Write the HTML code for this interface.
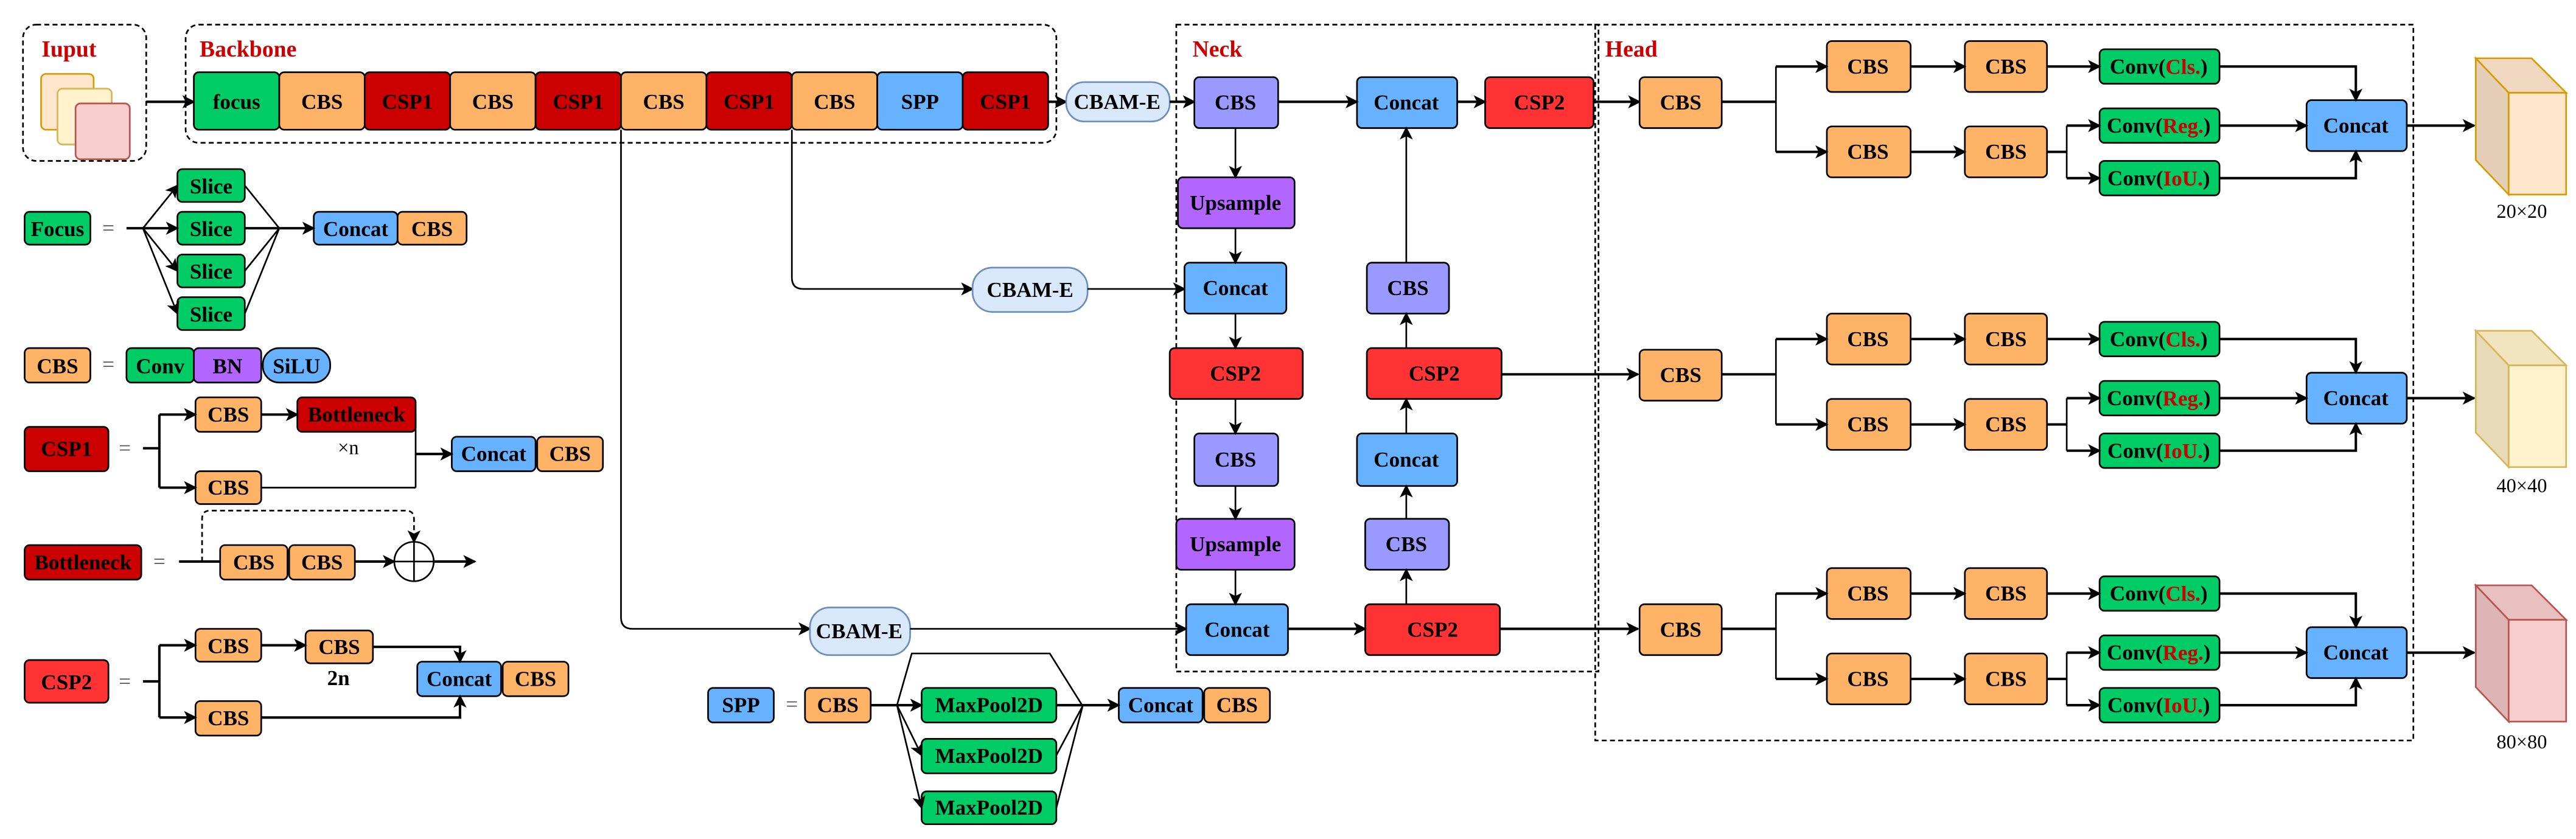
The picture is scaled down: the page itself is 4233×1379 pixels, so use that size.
<!DOCTYPE html>
<html><head><meta charset="utf-8"><style>
html,body{margin:0;padding:0;background:#fff}
svg{display:block}
text{font-family:"Liberation Serif",serif;font-weight:bold;font-size:13px;text-anchor:middle;dominant-baseline:central;fill:#000}
.r{fill:#cc0000}
.b{stroke:#000;stroke-width:1}
.l{stroke:#000;stroke-width:1;fill:none}
.t{stroke:#000;stroke-width:1.5;fill:none}
.d{stroke:#000;stroke-width:1;fill:none;stroke-dasharray:3,2}
</style></head><body>
<svg width="4233" height="1379" viewBox="0 0 1568 511" preserveAspectRatio="none" xmlns="http://www.w3.org/2000/svg">
<defs><marker id="a" markerUnits="userSpaceOnUse" markerWidth="8" markerHeight="8" refX="7" refY="4" orient="auto"><path d="M0,0 L8,4 L0,8 L2,4 Z" fill="#000"/></marker></defs>

<!-- group boxes -->
<rect x="14" y="15" width="75" height="83" rx="8" class="d"/>
<text x="42" y="30" class="r" style="font-size:14px">Iuput</text>
<rect x="25" y="45" width="32" height="34" rx="3" fill="#ffe6cc" stroke="#d79b00"/>
<rect x="35" y="54" width="33" height="34" rx="3" fill="#fff2cc" stroke="#d6b656"/>
<rect x="46" y="63" width="33" height="34" rx="3" fill="#f8cecc" stroke="#b85450"/>

<rect x="113" y="15" width="530" height="72" rx="8" class="d"/>
<text x="151" y="30" class="r" style="font-size:14px">Backbone</text>
<rect x="716" y="15" width="257" height="394" class="d"/>
<text x="741" y="30" class="r" style="font-size:14px">Neck</text>
<rect x="971" y="15" width="498" height="436" class="d"/>
<text x="993" y="30" class="r" style="font-size:14px">Head</text>

<!-- backbone -->
<line x1="89" y1="62" x2="118" y2="62" class="t" marker-end="url(#a)"/>
<g class="b">
<rect x="118" y="44" width="52" height="35" rx="3" fill="#00cc66"/>
<rect x="170" y="44" width="52" height="35" rx="3" fill="#ffb366"/>
<rect x="222" y="44" width="52" height="35" rx="3" fill="#cc0000"/>
<rect x="274" y="44" width="52" height="35" rx="3" fill="#ffb366"/>
<rect x="326" y="44" width="52" height="35" rx="3" fill="#cc0000"/>
<rect x="378" y="44" width="52" height="35" rx="3" fill="#ffb366"/>
<rect x="430" y="44" width="52" height="35" rx="3" fill="#cc0000"/>
<rect x="482" y="44" width="52" height="35" rx="3" fill="#ffb366"/>
<rect x="534" y="44" width="52" height="35" rx="3" fill="#66b2ff"/>
<rect x="586" y="44" width="52" height="35" rx="3" fill="#cc0000"/>
</g>
<text x="144" y="62">focus</text><text x="196" y="62">CBS</text><text x="248" y="62">CSP1</text><text x="300" y="62">CBS</text><text x="352" y="62">CSP1</text><text x="404" y="62">CBS</text><text x="456" y="62">CSP1</text><text x="508" y="62">CBS</text><text x="560" y="62">SPP</text><text x="612" y="62">CSP1</text>

<line x1="638" y1="62" x2="649" y2="62" class="t" marker-end="url(#a)"/>
<rect x="649" y="50" width="63" height="24" rx="11" fill="#dae8fc" stroke="#6c8ebf"/>
<text x="680" y="62">CBAM-E</text>
<line x1="712" y1="62" x2="727" y2="62" class="t" marker-end="url(#a)"/>

<!-- branch lines from backbone -->
<path d="M482,79 V169 Q482,176 489,176 H592" class="l" marker-end="url(#a)"/>
<rect x="592" y="163" width="70" height="27" rx="12" fill="#dae8fc" stroke="#6c8ebf"/>
<text x="627" y="176.5">CBAM-E</text>
<line x1="662" y1="176" x2="721" y2="176" class="l" marker-end="url(#a)"/>
<path d="M378,79 V376 Q378,383 385,383 H493" class="l" marker-end="url(#a)"/>
<rect x="493" y="370" width="61" height="29" rx="12" fill="#dae8fc" stroke="#6c8ebf"/>
<text x="523" y="384.5">CBAM-E</text>
<line x1="554" y1="383" x2="722" y2="383" class="l" marker-end="url(#a)"/>

<!-- neck -->
<g class="b">
<rect x="727" y="47" width="51" height="31" rx="3" fill="#9999ff"/>
<rect x="826" y="47" width="61" height="31" rx="3" fill="#66b2ff"/>
<rect x="904" y="47" width="66" height="31" rx="3" fill="#ff3333"/>
<rect x="717" y="108" width="71" height="31" rx="3" fill="#b266ff"/>
<rect x="721" y="160" width="62" height="31" rx="3" fill="#66b2ff"/>
<rect x="832" y="160" width="50" height="31" rx="3" fill="#9999ff"/>
<rect x="712" y="212" width="81" height="31" rx="3" fill="#ff3333"/>
<rect x="832" y="212" width="82" height="31" rx="3" fill="#ff3333"/>
<rect x="727" y="264" width="51" height="32" rx="3" fill="#9999ff"/>
<rect x="826" y="264" width="61" height="32" rx="3" fill="#66b2ff"/>
<rect x="716" y="316" width="72" height="31" rx="3" fill="#b266ff"/>
<rect x="831" y="316" width="51" height="31" rx="3" fill="#9999ff"/>
<rect x="722" y="368" width="62" height="31" rx="3" fill="#66b2ff"/>
<rect x="831" y="368" width="82" height="31" rx="3" fill="#ff3333"/>
</g>
<text x="752" y="62.5">CBS</text><text x="856" y="62.5">Concat</text><text x="937" y="62.5">CSP2</text>
<text x="752" y="123.5">Upsample</text><text x="752" y="175.5">Concat</text><text x="857" y="175.5">CBS</text>
<text x="752" y="227.5">CSP2</text><text x="873" y="227.5">CSP2</text>
<text x="752" y="280">CBS</text><text x="856" y="280">Concat</text>
<text x="752" y="331.5">Upsample</text><text x="856" y="331.5">CBS</text>
<text x="753" y="383.5">Concat</text><text x="872" y="383.5">CSP2</text>
<line x1="778" y1="62" x2="826" y2="62" class="t" marker-end="url(#a)"/>
<line x1="887" y1="62" x2="904" y2="62" class="t" marker-end="url(#a)"/>
<line x1="970" y1="62" x2="998" y2="62" class="t" marker-end="url(#a)"/>
<line x1="752" y1="78" x2="752" y2="108" class="l" marker-end="url(#a)"/>
<line x1="752" y1="139" x2="752" y2="160" class="l" marker-end="url(#a)"/>
<line x1="752" y1="191" x2="752" y2="212" class="l" marker-end="url(#a)"/>
<line x1="752" y1="243" x2="752" y2="264" class="l" marker-end="url(#a)"/>
<line x1="752" y1="296" x2="752" y2="316" class="l" marker-end="url(#a)"/>
<line x1="752" y1="347" x2="752" y2="368" class="l" marker-end="url(#a)"/>
<line x1="784" y1="383" x2="831" y2="383" class="t" marker-end="url(#a)"/>
<line x1="856" y1="368" x2="856" y2="347" class="l" marker-end="url(#a)"/>
<line x1="856" y1="316" x2="856" y2="296" class="l" marker-end="url(#a)"/>
<line x1="856" y1="264" x2="856" y2="243" class="l" marker-end="url(#a)"/>
<line x1="856" y1="212" x2="856" y2="191" class="l" marker-end="url(#a)"/>
<line x1="856" y1="160" x2="856" y2="78" class="l" marker-end="url(#a)"/>
<line x1="914" y1="228" x2="997" y2="228" class="t" marker-end="url(#a)"/>
<line x1="913" y1="383" x2="997" y2="383" class="t" marker-end="url(#a)"/>

<!-- head rows -->
<g id="row1">
<g class="b">
<rect x="998" y="47" width="50" height="31" rx="3" fill="#ffb366"/>
<rect x="1112" y="25" width="51" height="31" rx="3" fill="#ffb366"/>
<rect x="1196" y="25" width="50" height="31" rx="3" fill="#ffb366"/>
<rect x="1112" y="77" width="51" height="31" rx="3" fill="#ffb366"/>
<rect x="1196" y="77" width="50" height="31" rx="3" fill="#ffb366"/>
<rect x="1278" y="30" width="73" height="21" rx="3" fill="#00cc66"/>
<rect x="1278" y="66" width="73" height="21" rx="3" fill="#00cc66"/>
<rect x="1278" y="98" width="73" height="21" rx="3" fill="#00cc66"/>
<rect x="1404" y="61" width="61" height="31" rx="3" fill="#66b2ff"/>
</g>
<text x="1023" y="62.5">CBS</text><text x="1137" y="40.5">CBS</text><text x="1221" y="40.5">CBS</text><text x="1137" y="92.5">CBS</text><text x="1221" y="92.5">CBS</text>
<text x="1314" y="40.5">Conv(<tspan class="r">Cls.</tspan>)</text>
<text x="1314" y="76.5">Conv(<tspan class="r">Reg.</tspan>)</text>
<text x="1314" y="108.5">Conv(<tspan class="r">IoU.</tspan>)</text>
<text x="1434" y="76.5">Concat</text>
<path d="M1048,62 H1081" class="t"/>
<path d="M1081,40.5 V92.5" class="l"/>
<line x1="1081" y1="40.5" x2="1112" y2="40.5" class="t" marker-end="url(#a)"/>
<line x1="1081" y1="92.5" x2="1112" y2="92.5" class="t" marker-end="url(#a)"/>
<line x1="1163" y1="40.5" x2="1196" y2="40.5" class="t" marker-end="url(#a)"/>
<line x1="1246" y1="40.5" x2="1278" y2="40.5" class="t" marker-end="url(#a)"/>
<line x1="1163" y1="92.5" x2="1196" y2="92.5" class="t" marker-end="url(#a)"/>
<path d="M1246,92.5 H1258" class="t"/>
<path d="M1258,76.5 V108.5" class="l"/>
<line x1="1258" y1="76.5" x2="1278" y2="76.5" class="t" marker-end="url(#a)"/>
<line x1="1258" y1="108.5" x2="1278" y2="108.5" class="t" marker-end="url(#a)"/>
<path d="M1351,40.5 H1434 V61" class="t" marker-end="url(#a)"/>
<line x1="1351" y1="76.5" x2="1404" y2="76.5" class="t" marker-end="url(#a)"/>
<path d="M1351,108.5 H1434 V92" class="t" marker-end="url(#a)"/>
<line x1="1465" y1="76.5" x2="1506" y2="76.5" class="t" marker-end="url(#a)"/>
</g>
<use href="#row1" y="166"/>
<use href="#row1" y="321"/>

<!-- cubes -->
<g stroke="#d79b00" stroke-width="1">
<polygon points="1507,35.5 1541,35.5 1562,56.5 1527,56.5" fill="#f0d8c0"/>
<polygon points="1507,35.5 1527,56.5 1527,118.5 1507,97.5" fill="#e6cfb8"/>
<rect x="1527" y="56.5" width="35" height="62" fill="#ffe6cc"/>
</g>
<g stroke="#d6b656" stroke-width="1">
<polygon points="1507,201.5 1541,201.5 1562,222.5 1527,222.5" fill="#f3e4c0"/>
<polygon points="1507,201.5 1527,222.5 1527,284.5 1507,263.5" fill="#e8dab8"/>
<rect x="1527" y="222.5" width="35" height="62" fill="#fff2cc"/>
</g>
<g stroke="#b85450" stroke-width="1">
<polygon points="1507,356.5 1541,356.5 1562,377.5 1527,377.5" fill="#e9c0c0"/>
<polygon points="1507,356.5 1527,377.5 1527,439.5 1507,418.5" fill="#deb5b5"/>
<rect x="1527" y="377.5" width="35" height="62" fill="#f8cecc"/>
</g>
<text x="1535" y="129" style="font-weight:normal;font-size:12px">20×20</text>
<text x="1535" y="296" style="font-weight:normal;font-size:12px">40×40</text>
<text x="1535" y="452" style="font-weight:normal;font-size:12px">80×80</text>

<!-- Focus legend -->
<g class="b">
<rect x="15" y="129" width="40" height="20" rx="3" fill="#00cc66"/>
<rect x="108" y="103" width="41" height="20" rx="3" fill="#00cc66"/>
<rect x="108" y="129" width="41" height="20" rx="3" fill="#00cc66"/>
<rect x="108" y="155" width="41" height="20" rx="3" fill="#00cc66"/>
<rect x="108" y="181" width="41" height="20" rx="3" fill="#00cc66"/>
<rect x="191" y="129" width="51" height="20" rx="3" fill="#66b2ff"/>
<rect x="242" y="129" width="42" height="20" rx="3" fill="#ffb366"/>
</g>
<text x="35" y="139.5">Focus</text><text x="66" y="139" style="font-weight:normal;fill:#555">=</text>
<text x="128.5" y="113.5">Slice</text><text x="128.5" y="139.5">Slice</text><text x="128.5" y="165.5">Slice</text><text x="128.5" y="191.5">Slice</text>
<text x="216.5" y="139.5">Concat</text><text x="263" y="139.5">CBS</text>
<line x1="77" y1="139" x2="87" y2="139" class="t"/>
<line x1="87" y1="139" x2="108" y2="113" class="l" marker-end="url(#a)"/>
<line x1="87" y1="139" x2="108" y2="139" class="t" marker-end="url(#a)"/>
<line x1="87" y1="139" x2="108" y2="165" class="l" marker-end="url(#a)"/>
<line x1="87" y1="139" x2="108" y2="191" class="l" marker-end="url(#a)"/>
<path d="M149,113 L170,139 M149,165 L170,139 M149,191 L170,139" class="l"/>
<line x1="149" y1="139" x2="191" y2="139" class="t" marker-end="url(#a)"/>

<!-- CBS legend -->
<g class="b">
<rect x="15" y="212" width="40" height="21" rx="3" fill="#ffb366"/>
<rect x="77" y="212" width="41" height="21" rx="3" fill="#00cc66"/>
<rect x="118" y="212" width="41" height="21" rx="3" fill="#b266ff"/>
<rect x="160" y="212" width="41" height="21" rx="10" fill="#66b2ff"/>
</g>
<text x="35" y="223">CBS</text><text x="66" y="222" style="font-weight:normal;fill:#555">=</text>
<text x="97.5" y="223">Conv</text><text x="138.5" y="223">BN</text><text x="180.5" y="223">SiLU</text>

<!-- CSP1 legend -->
<g class="b">
<rect x="15" y="260" width="51" height="27" rx="3" fill="#cc0000"/>
<rect x="119" y="242" width="40" height="21" rx="3" fill="#ffb366"/>
<rect x="181" y="242" width="72" height="21" rx="3" fill="#cc0000"/>
<rect x="119" y="287" width="40" height="20" rx="3" fill="#ffb366"/>
<rect x="275" y="266" width="51" height="21" rx="3" fill="#66b2ff"/>
<rect x="327" y="266" width="40" height="21" rx="3" fill="#ffb366"/>
</g>
<text x="40.5" y="273.5">CSP1</text><text x="76" y="273" style="font-weight:normal;fill:#555">=</text>
<text x="139" y="252.5">CBS</text><text x="217" y="252.5">Bottleneck</text><text x="139" y="297">CBS</text>
<text x="300.5" y="276.5">Concat</text><text x="347" y="276.5">CBS</text>
<text x="212" y="273" style="font-weight:normal;font-size:12px">×n</text>
<path d="M87,273 H97 M97,252.5 V297" class="t"/>
<line x1="97" y1="252.5" x2="119" y2="252.5" class="t" marker-end="url(#a)"/>
<line x1="97" y1="297" x2="119" y2="297" class="t" marker-end="url(#a)"/>
<line x1="159" y1="252.5" x2="181" y2="252.5" class="t" marker-end="url(#a)"/>
<path d="M253,252.5 V297 M159,297 H253" class="l"/>
<line x1="253" y1="276.5" x2="275" y2="276.5" class="t" marker-end="url(#a)"/>

<!-- Bottleneck legend -->
<g class="b">
<rect x="15" y="332" width="71" height="21" rx="3" fill="#cc0000"/>
<rect x="134" y="332" width="41" height="21" rx="3" fill="#ffb366"/>
<rect x="176" y="332" width="40" height="21" rx="3" fill="#ffb366"/>
</g>
<text x="50.5" y="342.5">Bottleneck</text><text x="97" y="342" style="font-weight:normal;fill:#555">=</text>
<text x="154.5" y="342.5">CBS</text><text x="196" y="342.5">CBS</text>
<line x1="109" y1="342" x2="134" y2="342" class="t"/>
<path d="M123,342 V316 Q123,311 128,311 H247 Q252,311 252,316 V330" class="d" marker-end="url(#a)"/>
<line x1="216" y1="342" x2="240" y2="342" class="t" marker-end="url(#a)"/>
<circle cx="252" cy="342" r="12" fill="#fff" stroke="#000"/>
<path d="M240,342 H264 M252,330 V354" class="l"/>
<line x1="264" y1="342" x2="289" y2="342" class="t" marker-end="url(#a)"/>

<!-- CSP2 legend -->
<g class="b">
<rect x="15" y="402" width="51" height="26" rx="3" fill="#ff3333"/>
<rect x="119" y="383" width="40" height="20" rx="3" fill="#ffb366"/>
<rect x="186" y="384" width="41" height="20" rx="3" fill="#ffb366"/>
<rect x="119" y="427" width="40" height="21" rx="3" fill="#ffb366"/>
<rect x="254" y="403" width="51" height="21" rx="3" fill="#66b2ff"/>
<rect x="306" y="403" width="40" height="21" rx="3" fill="#ffb366"/>
</g>
<text x="40.5" y="415.5">CSP2</text><text x="76" y="415" style="font-weight:normal;fill:#555">=</text>
<text x="139" y="393.5">CBS</text><text x="206.5" y="394">CBS</text><text x="139" y="437.5">CBS</text>
<text x="206" y="413">2n</text>
<text x="279.5" y="413.5">Concat</text><text x="326" y="413.5">CBS</text>
<path d="M87,415 H97 M97,393 V437" class="t"/>
<line x1="97" y1="393" x2="119" y2="393" class="t" marker-end="url(#a)"/>
<line x1="97" y1="437" x2="119" y2="437" class="t" marker-end="url(#a)"/>
<line x1="159" y1="393" x2="186" y2="393" class="t" marker-end="url(#a)"/>
<path d="M227,394 H280 V403" class="t" marker-end="url(#a)"/>
<path d="M159,437 H280 V424" class="t" marker-end="url(#a)"/>

<!-- SPP legend -->
<g class="b">
<rect x="431" y="419" width="40" height="21" rx="3" fill="#66b2ff"/>
<rect x="490" y="419" width="40" height="21" rx="3" fill="#ffb366"/>
<rect x="561" y="419" width="82" height="21" rx="3" fill="#00cc66"/>
<rect x="561" y="450" width="82" height="21" rx="3" fill="#00cc66"/>
<rect x="561" y="482" width="82" height="20" rx="3" fill="#00cc66"/>
<rect x="681" y="419" width="51" height="21" rx="3" fill="#66b2ff"/>
<rect x="733" y="419" width="40" height="21" rx="3" fill="#ffb366"/>
</g>
<text x="451" y="429.5">SPP</text><text x="482" y="429" style="font-weight:normal;fill:#555">=</text>
<text x="510" y="429.5">CBS</text>
<text x="602" y="429.5">MaxPool2D</text><text x="602" y="460.5">MaxPool2D</text><text x="602" y="492">MaxPool2D</text>
<text x="706.5" y="429.5">Concat</text><text x="753" y="429.5">CBS</text>
<line x1="530" y1="429.5" x2="546" y2="429.5" class="t"/>
<line x1="546" y1="429.5" x2="561" y2="429.5" class="t" marker-end="url(#a)"/>
<line x1="546" y1="429.5" x2="561" y2="460" class="l" marker-end="url(#a)"/>
<line x1="546" y1="429.5" x2="561" y2="492" class="l" marker-end="url(#a)"/>
<path d="M546,429.5 L555,398 H639 L659,430" class="l"/>
<path d="M643,460 L659,430 M643,492 L659,430" class="l"/>
<line x1="643" y1="429.5" x2="681" y2="429.5" class="t" marker-end="url(#a)"/>
</svg>
</body></html>
